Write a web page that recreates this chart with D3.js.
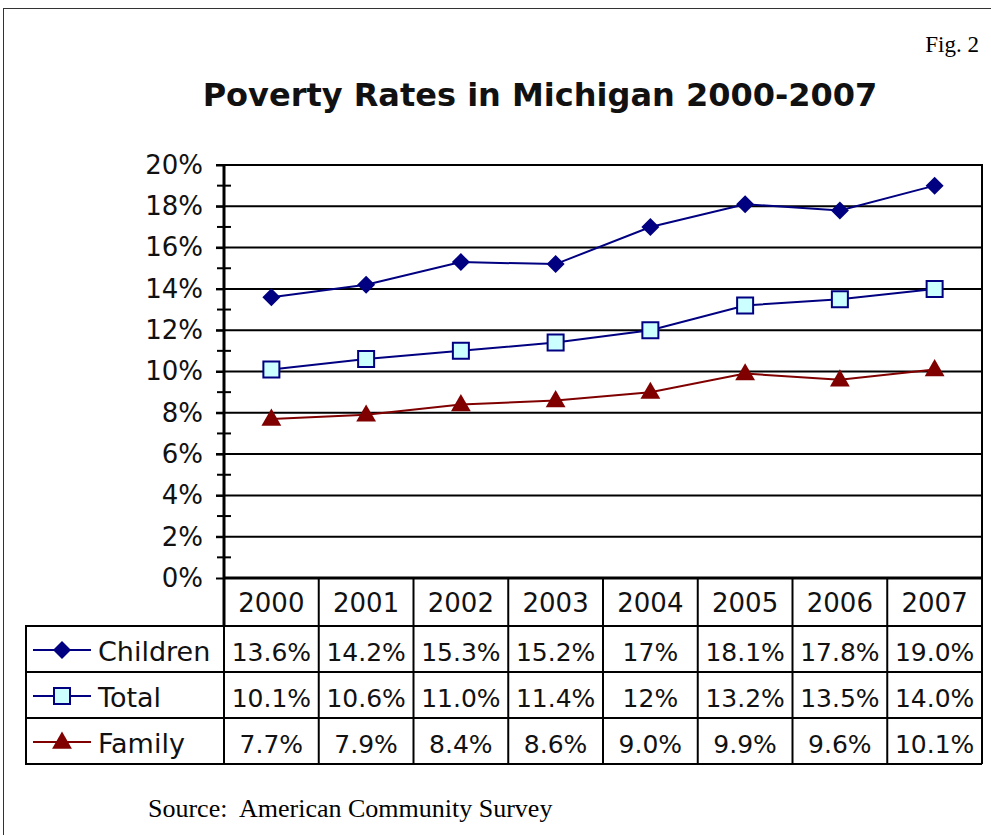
<!DOCTYPE html>
<html><head><meta charset="utf-8">
<script src="https://cdn.jsdelivr.net/npm/d3@7"></script>
<style>body{margin:0;background:#fff}svg{display:block}</style>
</head><body>
<svg id="c" width="991" height="835"></svg>
<script>
const years = ["2000","2001","2002","2003","2004","2005","2006","2007"];
const children = [13.6,14.2,15.3,15.2,17,18.1,17.8,19.0];
const total = [10.1,10.6,11.0,11.4,12,13.2,13.5,14.0];
const family = [7.7,7.9,8.4,8.6,9.0,9.9,9.6,10.1];
const childrenLabels = ["13.6%","14.2%","15.3%","15.2%","17%","18.1%","17.8%","19.0%"];
const totalLabels = ["10.1%","10.6%","11.0%","11.4%","12%","13.2%","13.5%","14.0%"];
const familyLabels = ["7.7%","7.9%","8.4%","8.6%","9.0%","9.9%","9.6%","10.1%"];
const yTicks = [0,2,4,6,8,10,12,14,16,18,20];
const seriesNames = ["Children","Total","Family"];

const svg = d3.select("#c");
const font = "DejaVu Sans";
const L = 224, R = 982, T = 165, B = 578;
const hdrH = 48, rowH = 46, legendLeft = 26;
const rowTop = k => B + hdrH + rowH*k;

const x = d3.scaleBand().domain(years).range([L, R]).padding(0);
const y = d3.scaleLinear().domain([0, 20]).range([B, T]);

// outer frame
svg.append("rect").attr("x",3.5).attr("y",8.5).attr("width",1000).attr("height",900)
  .attr("fill","none").attr("stroke","#333").attr("stroke-width",1);

// title
svg.append("text").attr("x",540).attr("y",106).attr("text-anchor","middle")
  .attr("font-family",font).attr("font-weight","bold").attr("font-size",32)
  .attr("fill","#111").text("Poverty Rates in Michigan 2000-2007");
svg.append("text").attr("x",979).attr("y",52).attr("text-anchor","end")
  .attr("font-family","Liberation Serif").attr("font-size",23).text("Fig. 2");
svg.append("text").attr("x",148).attr("y",817)
  .attr("font-family","Liberation Serif").attr("font-size",26).attr("xml:space","preserve")
  .text("Source:  American Community Survey");

// gridlines
svg.append("g").selectAll("line").data(yTicks.filter(d=>d>0)).join("line")
  .attr("x1",216).attr("x2",R).attr("y1",d=>y(d)).attr("y2",d=>y(d))
  .attr("stroke","#000").attr("stroke-width",2);

// y axis
const yAxis = d3.axisLeft(y).tickValues(yTicks).tickFormat(d=>d+"%").tickSize(8).tickPadding(13);
const ya = svg.append("g").attr("transform",`translate(${L},0)`).call(yAxis);
ya.select(".domain").remove();
ya.selectAll(".tick line").attr("stroke","#000").attr("stroke-width",2);
ya.selectAll(".tick text").attr("font-family",font).attr("font-size",26).attr("fill","#111");
// minor ticks
const minor = d3.range(1,20,2);
svg.append("g").selectAll("line").data(minor).join("line")
  .attr("x1",217).attr("x2",231).attr("y1",d=>y(d)).attr("y2",d=>y(d))
  .attr("stroke","#000").attr("stroke-width",2);
// axis lines
svg.append("line").attr("x1",L).attr("x2",L).attr("y1",T).attr("y2",B+hdrH)
  .attr("stroke","#000").attr("stroke-width",3);
svg.append("line").attr("x1",R).attr("x2",R).attr("y1",T-1).attr("y2",rowTop(3))
  .attr("stroke","#000").attr("stroke-width",2);
svg.append("line").attr("x1",L).attr("x2",R).attr("y1",B).attr("y2",B)
  .attr("stroke","#000").attr("stroke-width",3);

// data table
const tbl = svg.append("g");
tbl.selectAll("line.hv").data(years).join("line").attr("class","hv")
  .attr("x1",d=>x(d)+x.bandwidth()).attr("x2",d=>x(d)+x.bandwidth())
  .attr("y1",B).attr("y2",rowTop(3)).attr("stroke","#000").attr("stroke-width",2);
tbl.selectAll("text.yr").data(years).join("text").attr("class","yr")
  .attr("x",d=>x(d)+x.bandwidth()/2).attr("y",B+hdrH/2+10).attr("text-anchor","middle")
  .attr("font-family",font).attr("font-size",26).attr("fill","#111").text(d=>d);
[0,1,2,3].forEach(i=>{
  tbl.append("line").attr("x1",legendLeft).attr("x2",R).attr("y1",rowTop(i)).attr("y2",rowTop(i))
    .attr("stroke","#000").attr("stroke-width",2);
});
tbl.append("line").attr("x1",legendLeft).attr("x2",legendLeft).attr("y1",rowTop(0)-1).attr("y2",rowTop(3)+1)
  .attr("stroke","#000").attr("stroke-width",2);
tbl.append("line").attr("x1",L).attr("x2",L).attr("y1",B).attr("y2",rowTop(3))
  .attr("stroke","#000").attr("stroke-width",2);

const series = [
  {name:seriesNames[0], vals:children, labels:childrenLabels, line:"#000080", fill:"#000080"},
  {name:seriesNames[1], vals:total, labels:totalLabels, line:"#000080", fill:"#CCFFFF"},
  {name:seriesNames[2], vals:family, labels:familyLabels, line:"#800000", fill:"#800000"},
];
function marker(sel, s){
  if(s.name==="Children") sel.attr("d","M0,-9L9,0L0,9L-9,0Z");
  else if(s.name==="Total") sel.attr("d","M-8,-8H8V8H-8Z");
  else sel.attr("d",d3.symbol(d3.symbolTriangle,170)());
  sel.attr("fill",s.fill).attr("stroke",s.name==="Total"?"#000080":"none").attr("stroke-width",2);
}
const line = d3.line().x((d,i)=>x(years[i])+x.bandwidth()/2).y(d=>y(d));
series.forEach((s,k)=>{
  const g = svg.append("g");
  g.append("path").datum(s.vals).attr("d",line).attr("fill","none")
    .attr("stroke",s.line).attr("stroke-width",2);
  g.selectAll("path.m").data(s.vals).join("path").attr("class","m")
    .attr("transform",(d,i)=>`translate(${x(years[i])+x.bandwidth()/2},${y(d)+(s.name==="Family"?1:0)})`)
    .call(sel=>marker(sel,s));
  const ry = rowTop(k) + rowH/2;
  tbl.append("line").attr("x1",33).attr("x2",91).attr("y1",ry+1).attr("y2",ry+1)
    .attr("stroke",s.line).attr("stroke-width",2);
  tbl.append("path").attr("transform",`translate(62,${ry+(s.name==="Family"?2:1)})`).call(sel=>marker(sel,s));
  tbl.append("text").attr("x",98).attr("y",ry+12).attr("font-family",font).attr("font-size",27)
    .attr("fill","#111").text(s.name);
  tbl.selectAll(null).data(s.labels).join("text")
    .attr("x",(d,i)=>x(years[i])+x.bandwidth()/2).attr("y",ry+12).attr("text-anchor","middle")
    .attr("font-family",font).attr("font-size",25).attr("fill","#111").text(d=>d);
});
</script>
</body></html>
